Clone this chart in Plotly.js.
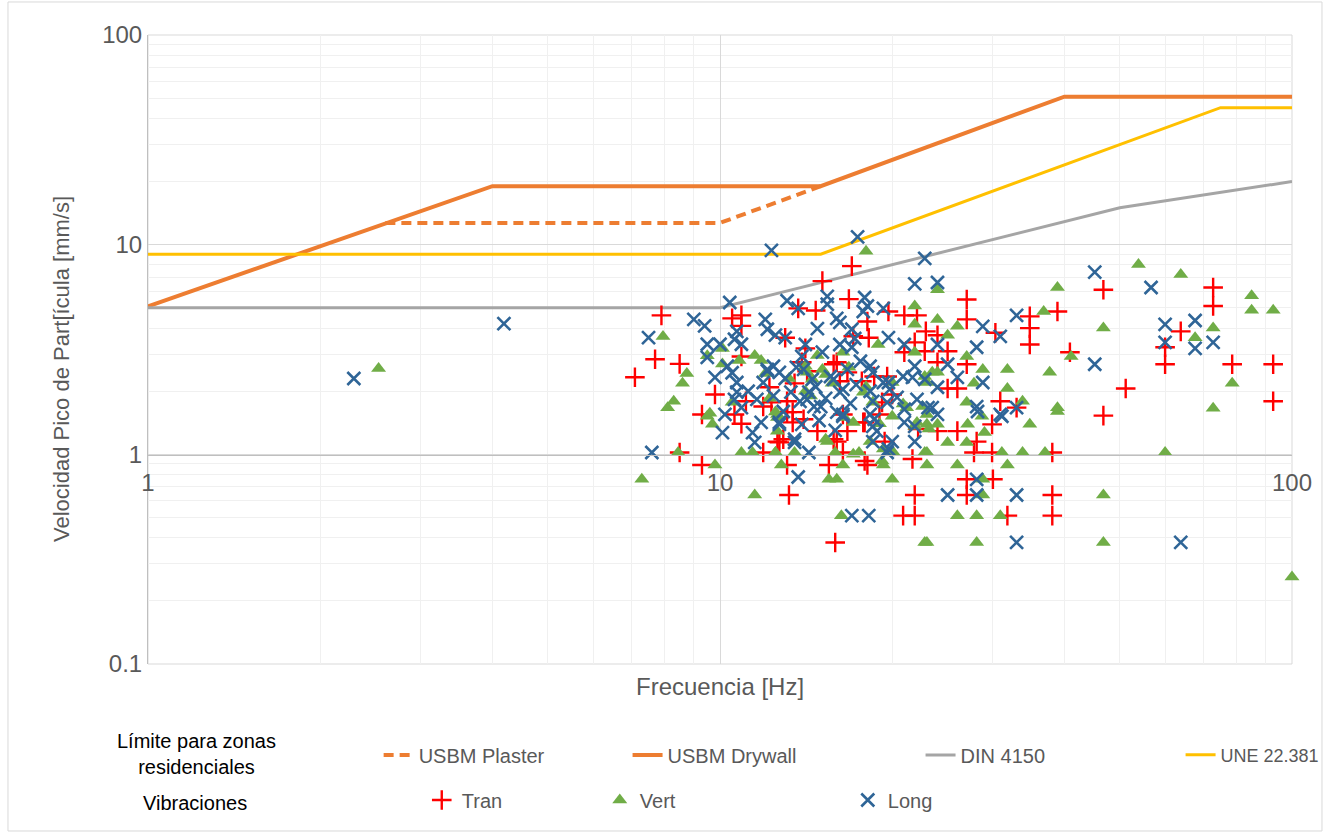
<!DOCTYPE html>
<html>
<head>
<meta charset="utf-8">
<script src="https://cdn.plot.ly/plotly-3.0.1.min.js"></script>
<style>html,body{margin:0;padding:0;background:#fff;}#chart{width:1323px;height:833px;}</style>
</head>
<body>
<div id="chart"></div>
<script>
// Limit lines
const plasterFreq = [2.6, 10, 15];
const plasterVel  = [12.7, 12.7, 19];
const drywallFreq = [1, 4, 15, 40, 100];
const drywallVel  = [5.08, 19, 19, 50.8, 50.8];
const dinFreq = [1, 10, 50, 100];
const dinVel  = [5, 5, 15, 20];
const uneFreq = [1, 15, 75, 100];
const uneVel  = [9, 9, 45, 45];

// Vibrations - Tran
const tranFreq = [7.9,10.5,10.9,10.9,7.7,8.5,7.1,10.9,9.8,12.2,11.1,12.3,11.9,9.3,10.6,8.5,9.3,10.9,11.9,12.6,
  17.0,15.1,13.7,14.7,16.8,19.7,21.0,22.1,22.9,13.0,18.1,17.1,18.2,21.9,21.0,22.8,14.1,16.0,16.7,13.9,13.5,16.2,17.7,19.6,20.0,13.1,13.1,16.4,19.0,
  13.4,14.8,12.7,13.1,16.0,16.4,15.5,16.7,17.9,18.1,19.4,22.2,13.2,21.9,20.9,21.9,15.9,
  27.0,27.0,38.9,34.8,34.8,34.8,30.3,24.0,25.0,27.0,24.0,40.9,25.0,26.0,30.9,33.0,
  24.0,26.0,29.9,28.1,27.8,29.9,38.1,27.0,30.0,27.0,38.1,31.8,38.1,
  46.8,72.8,72.8,63.9,60.0,60.0,78.6,92.7,51.2,92.7,46.8,
  15.8,14.2,13.4,14.0,15.8,19.2,17.8,17.9,21.7,12.9,18.6];
const tranVel = [4.6,4.45,4.6,4.1,2.84,2.7,2.33,2.93,1.93,2.09,1.79,1.77,1.69,1.55,1.55,1.02,0.89,1.4,1.02,1.15,
  7.9,6.7,4.97,4.85,5.5,4.8,4.6,4.6,3.86,3.6,4.3,3.66,3.6,3.42,3.07,3.1,3.2,2.75,2.46,2.75,2.18,2.23,2.23,2.35,1.93,1.79,1.59,1.55,1.55,
  1.42,1.29,1.14,0.89,1.15,1.02,0.89,1.29,1.42,0.89,1.15,1.32,0.64,0.64,0.51,0.51,0.38,
  5.48,4.4,4.8,4.55,4.0,3.34,3.8,3.7,3.1,2.69,2.75,3.07,2.06,2.06,1.79,1.67,
  1.29,1.29,1.39,1.15,1.02,1.02,1.02,0.76,0.76,0.64,0.64,0.51,0.51,
  6.1,6.25,5.1,3.86,3.24,2.69,2.69,2.69,2.06,1.79,1.53,
  2.69,2.49,1.59,1.47,1.18,1.77,1.42,0.93,0.95,1.18,2.35];

// Vibrations - Vert
const vertFreq = [2.53,7.3,8.45,9.8,11.5,7.95,10.1,9.5,8.75,8.6,8.3,8.1,10.1,10.8,11.5,11.8,12.0,10.5,9.6,12.6,9.5,9.7,10.9,11.4,12.5,
  18.0,21.9,21.9,18.9,21.9,14.8,16.4,14.2,15.1,15.7,17.8,22.8,21.2,18.5,12.5,22.6,
  12.6,12.5,13.5,12.8,15.4,15.9,16.4,17.1,18.3,17.5,19.3,20.1,22.1,22.8,15.5,16.0,20.0,16.3,22.8,
  24.0,38.9,24.0,26.0,25.0,36.8,27.0,24.0,28.8,31.8,37.7,41.1,27.8,31.8,23.0,33.8,38.9,27.0,23.0,
  23.0,24.0,27.1,28.7,29.0,34.8,38.9,25.0,27.0,31.1,33.8,37.0,23.0,23.0,26.0,31.8,28.8,28.8,26.0,28.1,30.9,23.0,28.1,
  53.9,63.9,85.0,85.0,92.7,46.8,72.8,67.7,78.6,72.8,60.0,46.8,46.8,100,
  14.1,12.6,15.3,16.5,15.3,14.5,14.1,20.0,23.5,20.9,20.0,21.9,23.2,19.3,17.1,19.2,
  13.2,14.4,16.8,18.0,19.0,12.2];
const vertVel = [2.57,0.76,1.02,0.89,0.64,3.65,3.2,2.95,2.43,2.18,1.79,1.67,2.7,2.8,2.96,2.8,2.43,1.77,1.57,1.55,1.52,1.39,1.02,1.02,1.02,
  9.3,5.1,4.17,3.34,3.07,2.96,3.07,2.46,2.54,2.18,1.98,2.35,1.67,1.77,1.59,1.69,
  1.29,1.02,1.02,0.89,1.15,1.02,0.89,1.42,1.15,1.02,0.89,1.02,1.42,1.02,0.76,0.76,0.76,0.51,0.38,
  6.1,6.25,4.4,4.08,3.7,4.8,2.93,2.46,2.54,2.54,2.46,2.93,2.18,2.06,2.2,1.79,1.67,1.77,1.55,
  1.39,1.39,1.39,1.52,1.27,1.39,1.6,1.14,1.14,1.02,1.02,1.02,1.02,0.89,0.89,0.89,0.76,0.64,0.51,0.51,0.51,0.38,0.38,
  8.05,7.2,5.7,4.86,4.86,4.0,4.0,3.6,2.18,1.66,1.02,0.64,0.38,0.26,
  2.0,1.5,1.18,1.5,2.4,2.28,2.63,2.2,2.46,1.74,1.52,1.36,1.32,1.06,1.0,0.93,
  2.3,1.9,2.6,2.1,1.4,1.85];

// Vibrations - Long
const longFreq = [2.29,4.19,7.6,12.3,10.4,9.0,9.4,7.5,10.7,12.0,12.1,12.5,9.5,10.0,10.6,10.9,9.5,10.3,10.5,9.8,10.7,12.1,10.7,10.6,11.6,10.9,10.2,10.1,11.4,11.5,11.8,
  17.4,22.8,21.9,13.1,13.7,15.4,15.4,17.9,18.1,17.8,19.3,14.8,13.0,16.0,16.2,17.0,17.2,19.7,21.0,14.1,13.9,15.1,16.2,17.0,17.6,18.3,16.7,12.4,14.0,14.5,16.4,18.3,19.7,20.9,21.7,22.8,20.4,19.6,13.3,14.2,16.0,18.3,22.1,15.0,
  12.7,13.9,13.5,14.3,16.4,18.5,18.5,19.6,20.0,21.0,21.9,13.7,17.0,18.2,
  24.0,33.0,28.8,30.9,24.0,28.1,25.0,26.0,28.8,24.0,33.0,28.1,30.9,23.5,24.0,28.2,31.1,28.1,25.0,28.1,33.0,33.0,
  45.2,56.7,60.0,67.7,60.0,67.7,72.8,45.2,63.9,
  12.7,13.8,14.3,14.6,12.7,13.5,16.4,16.2,15.8,15.6,12.1,18.5,19.3,19.8,21.9,18.5,21.0,23.1,18.6,18.8,21.9,19.7,
  11.2,11.9,12.4,13.0,13.6,14.7,15.3,16.9,17.3,15.9,12.9,14.9];
const longVel = [2.3,4.2,1.02,9.4,5.3,4.4,4.1,3.6,3.86,4.4,3.95,3.7,3.35,3.35,3.54,3.35,2.9,2.63,2.45,2.33,2.2,2.54,1.98,1.83,1.83,1.67,1.55,1.27,1.27,1.14,1.42,
  10.9,8.6,6.5,5.4,4.97,5.67,5.2,5.6,5.1,4.8,4.97,3.98,3.6,4.45,4.26,3.95,3.57,3.6,3.34,3.34,2.93,3.07,3.34,3.24,2.78,2.63,2.54,2.63,2.54,2.28,2.04,2.0,2.2,2.35,2.33,2.28,1.87,1.77,1.98,1.83,1.59,1.55,1.83,1.69,
  1.42,1.39,1.14,1.02,1.52,1.36,1.15,1.02,1.15,1.42,1.15,0.78,0.51,0.51,
  6.6,4.6,4.08,3.65,3.34,3.24,2.69,2.33,2.2,2.09,1.67,1.69,1.55,1.67,1.55,1.6,1.52,0.76,0.64,0.64,0.64,0.38,
  7.4,6.25,4.17,4.35,3.42,3.2,3.42,2.69,0.38,
  2.46,1.79,1.98,1.69,1.39,1.18,1.55,1.98,2.28,2.35,2.5,2.46,2.2,2.04,2.63,1.79,1.64,1.67,1.47,1.29,1.36,1.06,
  2.0,2.2,1.9,2.3,2.6,2.1,1.85,1.75,2.15,1.3,1.6,1.45];

// Legend / axis texts
const groupLabel1 = 'Límite para zonas<br>residenciales';
const groupLabel2 = 'Vibraciones';
const xTitle = 'Frecuencia [Hz]';
const yTitle = 'Velocidad Pico de Part[ícula [mm/s]';
const xTickVals = [1, 10, 100];
const xTickText = ['1', '10', '100'];
const yTickVals = [0.1, 1, 10, 100];
const yTickText = ['0.1', '1', '10', '100'];
const xMinor = [2,3,4,5,6,7,8,9,20,30,40,50,60,70,80,90];
const yMinor = [0.2,0.3,0.4,0.5,0.6,0.7,0.8,0.9,2,3,4,5,6,7,8,9,20,30,40,50,60,70,80,90];

const FONT = '"Liberation Sans", Arial, sans-serif';
const ORANGE = '#ed7d31', GRAY = '#a5a5a5', YELLOW = '#ffc000';

const traces = [
  {x: plasterFreq, y: plasterVel, name: 'USBM Plaster', mode: 'lines', legend: 'legend',
   line: {color: ORANGE, width: 4, dash: '10px,6px'}},
  {x: drywallFreq, y: drywallVel, name: 'USBM Drywall', mode: 'lines', legend: 'legend2',
   line: {color: ORANGE, width: 4}},
  {x: dinFreq, y: dinVel, name: 'DIN 4150', mode: 'lines', legend: 'legend3',
   line: {color: GRAY, width: 3}},
  {x: uneFreq, y: uneVel, name: 'UNE 22.381', mode: 'lines', legend: 'legend4',
   line: {color: YELLOW, width: 3}},
  {x: tranFreq, y: tranVel, name: 'Tran', mode: 'markers', legend: 'legend5', cliponaxis: false,
   marker: {symbol: 'cross-thin-open', size: 14, color: '#ff0000', line: {color: '#ff0000', width: 2.4}}},
  {x: vertFreq, y: vertVel, name: 'Vert', mode: 'markers', legend: 'legend6', cliponaxis: false,
   marker: {symbol: 'triangle-up', size: 13, color: '#70ad47', line: {width: 0}}},
  {x: longFreq, y: longVel, name: 'Long', mode: 'markers', legend: 'legend7', cliponaxis: false,
   marker: {symbol: 'x-thin-open', size: 13, color: '#2f6597', line: {color: '#2f6597', width: 2.6}}}
];

function leg(x, y, fs) {
  return {x: x, y: y, xanchor: 'left', yanchor: 'middle', orientation: 'h',
    bgcolor: 'rgba(0,0,0,0)', borderwidth: 0, itemwidth: 30,
    font: {family: FONT, size: fs || 20, color: '#595959'}};
}

const layout = {
  width: 1323, height: 833,
  margin: {l: 148, r: 31, t: 35, b: 169, autoexpand: false},
  paper_bgcolor: '#ffffff', plot_bgcolor: '#ffffff',
  font: {family: FONT, color: '#595959'},
  xaxis: {
    type: 'log', range: [0, 2], tickmode: 'array', tickvals: xTickVals, ticktext: xTickText,
    anchor: 'free', position: 0.3323, ticklabelstandoff: 6,
    showgrid: true, gridcolor: '#d9d9d9', gridwidth: 1, zeroline: false, automargin: false,
    showline: true, linecolor: '#bfbfbf', linewidth: 1, mirror: false, ticks: '',
    tickfont: {family: FONT, size: 24, color: '#595959'},
    minor: {tickmode: 'array', tickvals: xMinor, showgrid: true, gridcolor: '#f0f0f0', gridwidth: 1, ticks: ''}
  },
  yaxis: {
    type: 'log', range: [-1, 2], tickmode: 'array', tickvals: yTickVals, ticktext: yTickText,
    showgrid: true, gridcolor: '#d9d9d9', gridwidth: 1, zeroline: false, automargin: false,
    showline: true, linecolor: '#bfbfbf', mirror: false, ticks: '',
    tickfont: {family: FONT, size: 24, color: '#595959'},
    minor: {tickmode: 'array', tickvals: yMinor, showgrid: true, gridcolor: '#f0f0f0', gridwidth: 1, ticks: ''}
  },
  legend: leg(0.2016, -0.1447),
  legend2: leg(0.4192, -0.1447),
  legend3: leg(0.6753, -0.1447),
  legend4: leg(0.9026, -0.1447, 18),
  legend5: leg(0.2393, -0.2162),
  legend6: leg(0.3949, -0.2162),
  legend7: leg(0.6117, -0.2162),
  annotations: [
    {xref: 'paper', yref: 'paper', x: 0.5, y: -0.035, text: xTitle, showarrow: false,
     xanchor: 'center', yanchor: 'middle', font: {family: FONT, size: 24, color: '#595959'}},
    {xref: 'paper', yref: 'paper', x: -0.0752, y: 0.469, text: yTitle, showarrow: false, textangle: -90,
     xanchor: 'center', yanchor: 'middle', font: {family: FONT, size: 22, color: '#595959'}},
    {xref: 'paper', yref: 'paper', x: 0.0428, y: -0.1431, text: groupLabel1, showarrow: false,
     xanchor: 'center', yanchor: 'middle', align: 'center', font: {family: FONT, size: 20, color: '#000000'}},
    {xref: 'paper', yref: 'paper', x: 0.041, y: -0.221, text: groupLabel2, showarrow: false,
     xanchor: 'center', yanchor: 'middle', font: {family: FONT, size: 20, color: '#000000'}}
  ],
  shapes: [
    {type: 'rect', xref: 'paper', yref: 'paper', x0: 0, x1: 1, y0: 0, y1: 1,
     line: {color: '#d9d9d9', width: 1}, fillcolor: 'rgba(0,0,0,0)', layer: 'below'},
    {type: 'rect', xref: 'paper', yref: 'paper', x0: -0.1224, x1: 1.0262, y0: -0.2655, y1: 1.0525,
     line: {color: '#d9d9d9', width: 1}, fillcolor: 'rgba(0,0,0,0)', layer: 'below'}
  ],
  showlegend: true
};

Plotly.newPlot('chart', traces, layout, {displayModeBar: false, staticPlot: true});
</script>
</body>
</html>
